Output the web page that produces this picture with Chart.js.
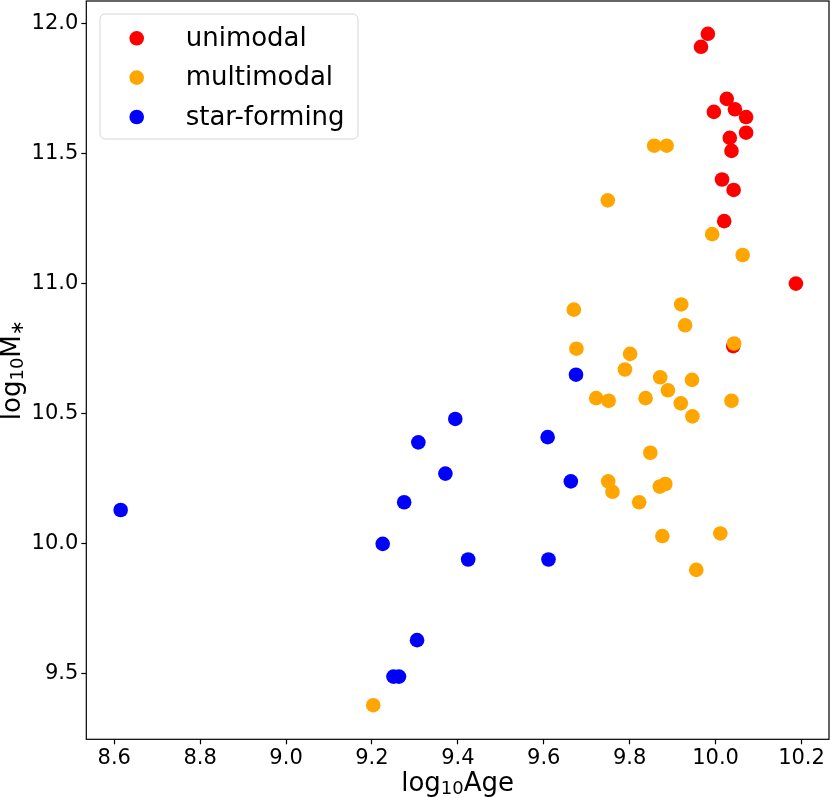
<!DOCTYPE html>
<html>
<head>
<meta charset="utf-8">
<script src="https://cdn.jsdelivr.net/npm/chart.js@4/dist/chart.umd.min.js"></script>
<style>
  html, body { margin: 0; padding: 0; background: #fff; }
  #wrap { width: 831px; height: 798px; position: relative; }
</style>
</head>
<body>
<div id="wrap"><canvas id="scatter"></canvas></div>
<script>
const groupNames = ['unimodal', 'multimodal', 'star-forming'];
const groupColors = ['#ff0000', '#ffa500', '#0000ff'];

// log10 Age / log10 M* per group
const uniAge  = [9.982, 9.966, 10.026, 9.996, 10.045, 10.071, 10.071, 10.033, 10.037, 10.015, 10.042, 10.020, 10.187, 10.041];
const uniMass = [11.96, 11.91, 11.71, 11.66, 11.67, 11.64, 11.58, 11.56, 11.51, 11.40, 11.36, 11.24, 11.00, 10.76];

const multiAge  = [9.857, 9.886, 9.749, 9.992, 10.063, 9.670, 9.920, 9.929, 10.043, 9.676, 9.801, 9.789, 9.871, 9.945, 9.889, 9.722,
                   9.751, 9.837, 9.919, 10.037, 9.946, 9.848, 9.750, 9.760, 9.870, 9.883, 9.822, 9.876, 10.011, 9.955, 9.203];
const multiMass = [11.53, 11.53, 11.32, 11.19, 11.11, 10.90, 10.92, 10.84, 10.77, 10.75, 10.73, 10.67, 10.64, 10.63, 10.59, 10.56,
                   10.55, 10.56, 10.54, 10.55, 10.49, 10.35, 10.24, 10.20, 10.22, 10.23, 10.16, 10.03, 10.04, 9.90, 9.38];

const sfAge  = [8.615, 9.225, 9.275, 9.308, 9.371, 9.394, 9.424, 9.305, 9.250, 9.263, 9.609, 9.675, 9.663, 9.611];
const sfMass = [10.13, 10.00, 10.16, 10.39, 10.27, 10.48, 9.94, 9.63, 9.49, 9.49, 10.41, 10.65, 10.24, 9.94];

const xTicks = [8.6, 8.8, 9.0, 9.2, 9.4, 9.6, 9.8, 10.0, 10.2];
const yTicks = [9.5, 10.0, 10.5, 11.0, 11.5, 12.0];

const toPoints = (xs, ys) => xs.map((x, i) => ({ x: x, y: ys[i] }));

const FONT = 'DejaVu Sans';

// draws text pieces one after another, subscripts smaller and lowered
function drawParts(ctx, parts, x, y) {
  let cx = x;
  parts.forEach(p => {
    ctx.font = (p.sub ? 18 : 26) + 'px "' + FONT + '"';
    ctx.fillText(p.t, cx, y + (p.sub ? 3 : 0));
    cx += ctx.measureText(p.t).width;
  });
}
function partsWidth(ctx, parts) {
  let w = 0;
  parts.forEach(p => {
    ctx.font = (p.sub ? 18 : 26) + 'px "' + FONT + '"';
    w += ctx.measureText(p.t).width;
  });
  return w;
}

const framePlugin = {
  id: 'frame',
  afterDraw(chart) {
    const ctx = chart.ctx;
    const a = chart.chartArea;
    ctx.save();

    // box around the plot
    ctx.strokeStyle = '#000';
    ctx.lineWidth = 1.2;
    ctx.strokeRect(a.left, a.top, a.right - a.left, a.bottom - a.top);

    // axis titles
    ctx.fillStyle = '#000';
    ctx.textBaseline = 'alphabetic';
    ctx.textAlign = 'left';
    const xTitle = [{ t: 'log' }, { t: '10', sub: true }, { t: 'Age' }];
    const xw = partsWidth(ctx, xTitle);
    drawParts(ctx, xTitle, (a.left + a.right) / 2 - xw / 2, a.bottom + 52);

    const yTitle = [{ t: 'log' }, { t: '10', sub: true }, { t: 'M' }, { t: '\u2217', sub: true }];
    const yw = partsWidth(ctx, yTitle);
    ctx.save();
    ctx.translate(a.left - 66, (a.top + a.bottom) / 2 + yw / 2);
    ctx.rotate(-Math.PI / 2);
    drawParts(ctx, yTitle, 0, 0);
    ctx.restore();

    // legend box, upper left
    const bx = a.left + 13.7, by = a.top + 13, bw = 258, bh = 125, r = 5;
    ctx.beginPath();
    ctx.moveTo(bx + r, by);
    ctx.arcTo(bx + bw, by, bx + bw, by + bh, r);
    ctx.arcTo(bx + bw, by + bh, bx, by + bh, r);
    ctx.arcTo(bx, by + bh, bx, by, r);
    ctx.arcTo(bx, by, bx + bw, by, r);
    ctx.closePath();
    ctx.fillStyle = 'rgba(255,255,255,0.8)';
    ctx.fill();
    ctx.strokeStyle = '#d6d6d6';
    ctx.lineWidth = 1;
    ctx.stroke();

    ctx.font = '26px "' + FONT + '"';
    chart.data.datasets.forEach((ds, i) => {
      const cy = by + 24.3 + i * 39.35;
      ctx.beginPath();
      ctx.arc(bx + 36.7, cy, 7.3, 0, Math.PI * 2);
      ctx.fillStyle = ds.backgroundColor;
      ctx.fill();
      ctx.fillStyle = '#000';
      ctx.fillText(ds.label, bx + 85.7, cy + 7.7);
    });
    ctx.restore();
  }
};

const tickFont = { family: FONT, size: 21 };
const noPadding = s => { s.paddingTop = 0; s.paddingBottom = 0; s.paddingLeft = 0; s.paddingRight = 0; };

new Chart(document.getElementById('scatter'), {
  type: 'scatter',
  data: {
    datasets: [
      { label: groupNames[0], data: toPoints(uniAge, uniMass), backgroundColor: groupColors[0], order: 3 },
      { label: groupNames[1], data: toPoints(multiAge, multiMass), backgroundColor: groupColors[1], order: 2 },
      { label: groupNames[2], data: toPoints(sfAge, sfMass), backgroundColor: groupColors[2], order: 1 }
    ]
  },
  options: {
    responsive: true,
    maintainAspectRatio: false,
    animation: false,
    layout: { autoPadding: false, padding: { top: 1, right: 2, left: 0, bottom: 0 } },
    elements: { point: { radius: 7.3, hoverRadius: 7.3, borderWidth: 0 } },
    plugins: { legend: { display: false }, tooltip: { enabled: false } },
    scales: {
      x: {
        type: 'linear',
        min: 8.535,
        max: 10.264,
        afterBuildTicks: s => { s.ticks = xTicks.map(v => ({ value: v })); },
        afterFit: s => { s.height = 58.7; noPadding(s); },
        ticks: { callback: v => v.toFixed(1), font: tickFont, color: '#000', padding: 2, maxRotation: 0, autoSkip: false },
        grid: { drawOnChartArea: false, tickLength: 5, color: '#000', tickWidth: 1.2 },
        border: { display: false }
      },
      y: {
        type: 'linear',
        min: 9.249,
        max: 12.086,
        afterBuildTicks: s => { s.ticks = yTicks.map(v => ({ value: v })); },
        afterFit: s => { s.width = 86.3; noPadding(s); },
        ticks: { callback: v => v.toFixed(1), font: tickFont, color: '#000', padding: 3, autoSkip: false },
        grid: { drawOnChartArea: false, tickLength: 5, color: '#000', tickWidth: 1.2 },
        border: { display: false }
      }
    }
  },
  plugins: [framePlugin]
});
</script>
</body>
</html>
